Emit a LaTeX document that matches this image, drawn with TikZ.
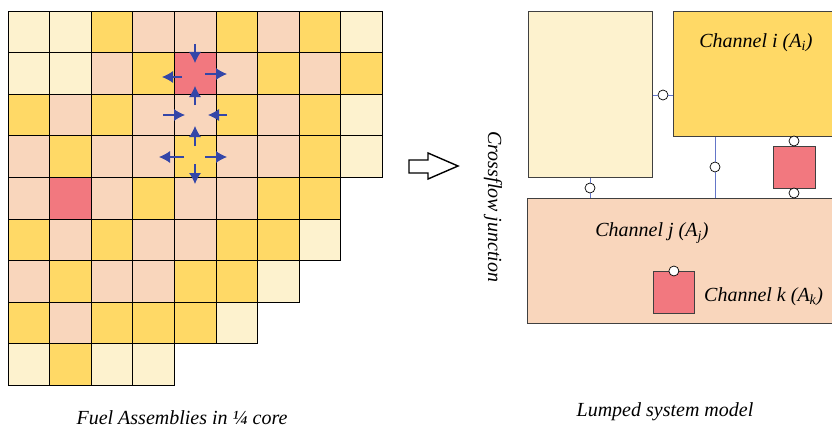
\documentclass[tikz,border=0pt]{standalone}
\usepackage{fontspec}
\setmainfont{Liberation Serif}
\usetikzlibrary{arrows.meta}
\definecolor{facream}{HTML}{FDF2CE}
\definecolor{fayellow}{HTML}{FFD966}
\definecolor{fapeach}{HTML}{F9D6BC}
\definecolor{fared}{HTML}{F2787F}
\definecolor{flowblue}{HTML}{3446A8}
\definecolor{linkblue}{HTML}{6476C8}
\tikzset{
	cL/.style={fill=facream}, cY/.style={fill=fayellow},
	cP/.style={fill=fapeach}, cR/.style={fill=fared},
	cell/.style={draw=black, line width=0.9pt},
	flow/.style={flowblue, line width=1.1pt, -{Latex[length=11pt,width=12pt]}},
	chbox/.style={draw=black!75, line width=0.8pt, anchor=north west, inner sep=0pt},
	junc/.style={circle, draw=black, fill=white, line width=0.7pt, inner sep=0pt, minimum size=10pt},
	link/.style={linkblue, line width=0.9pt},
	txt/.style={font=\fontsize{20}{24}\selectfont\itshape, inner sep=0pt}
}
\begin{document}
\begin{tikzpicture}[x=1pt,y=-1pt]
	\useasboundingbox (0,0) rectangle (832,428);
	
	\foreach \r/\row in {0/{L,L,Y,P,P,Y,P,Y,L}, 1/{L,L,P,Y,R,P,Y,P,Y}, 2/{Y,P,Y,P,P,Y,P,Y,L},
		3/{P,Y,P,P,Y,P,P,Y,L}, 4/{P,R,P,Y,P,P,Y,Y}, 5/{Y,P,Y,P,P,Y,Y,L},
		6/{P,Y,P,P,Y,Y,L}, 7/{Y,P,Y,Y,Y,L}, 8/{L,Y,L,L}}{
		\foreach \c [count=\k from 0] in \row{
			\draw[cell, c\c] (8+41.6*\k, 11+41.6*\r) rectangle ++(41.6,41.6);}
	}
	
	\foreach \xa/\ya/\xb/\yb in {195/44/195/63, 182/77/162/77, 205/74/227/74, 195/105/195/86,
		163/115/185/115, 227/115/208/115, 195/146/195/126, 184/157/159/157,
		205/157/227/157, 195/164/195/184}{
		\draw[flow] (\xa,\ya) -- (\xb,\yb);}
	
	\draw[line width=1.4pt] (409,160) -- (428,160) -- (428,153) -- (458,166)
		-- (428,179) -- (428,173) -- (409,173) -- cycle;
	
	\node[txt, rotate=-90] (cross) at (493,207) {Crossflow junction};
	
	\node[chbox, fill=facream, minimum width=124, minimum height=166] (cream) at (528,11) {};
	\node[chbox, fill=fayellow, minimum width=162, minimum height=125] (chi) at (673,11) {};
	\node[chbox, fill=fapeach, minimum width=308, minimum height=125] (chj) at (527,198) {};
	\node[chbox, fill=fared, minimum width=42, minimum height=42] (redi) at (773,146) {};
	\node[chbox, fill=fared, minimum width=41, minimum height=42] (chk) at (653,271) {};
	
	\node[txt] (lbli) at (756,43) {Channel i (A\textsubscript{i})};
	\node[txt] (lblj) at (652,233) {Channel j (A\textsubscript{j})};
	\node[txt, anchor=west] (lblk) at (704,297) {Channel k (A\textsubscript{k})};
	
	\node[junc] (j1) at (663,95) {};
	\node[junc] (j2) at (590,188) {};
	\node[junc] (j3) at (715,167) {};
	\node[junc] (j4) at (794,141) {};
	\node[junc] (j5) at (794,193) {};
	\node[junc] (j6) at (chk.north) {};
	
	\draw[link] (cream.east |- j1) -- (j1) -- (chi.west |- j1);
	\draw[link] (cream.south -| j2) -- (j2) -- (chj.north -| j2);
	\draw[link] (chi.south -| j3) -- (j3) -- (chj.north -| j3);
	
	\node[txt] (capl) at (182,418) {Fuel Assemblies in ¼ core};
	\node[txt] (capr) at (665,412) {Lumped system model};
\end{tikzpicture}
\end{document}
